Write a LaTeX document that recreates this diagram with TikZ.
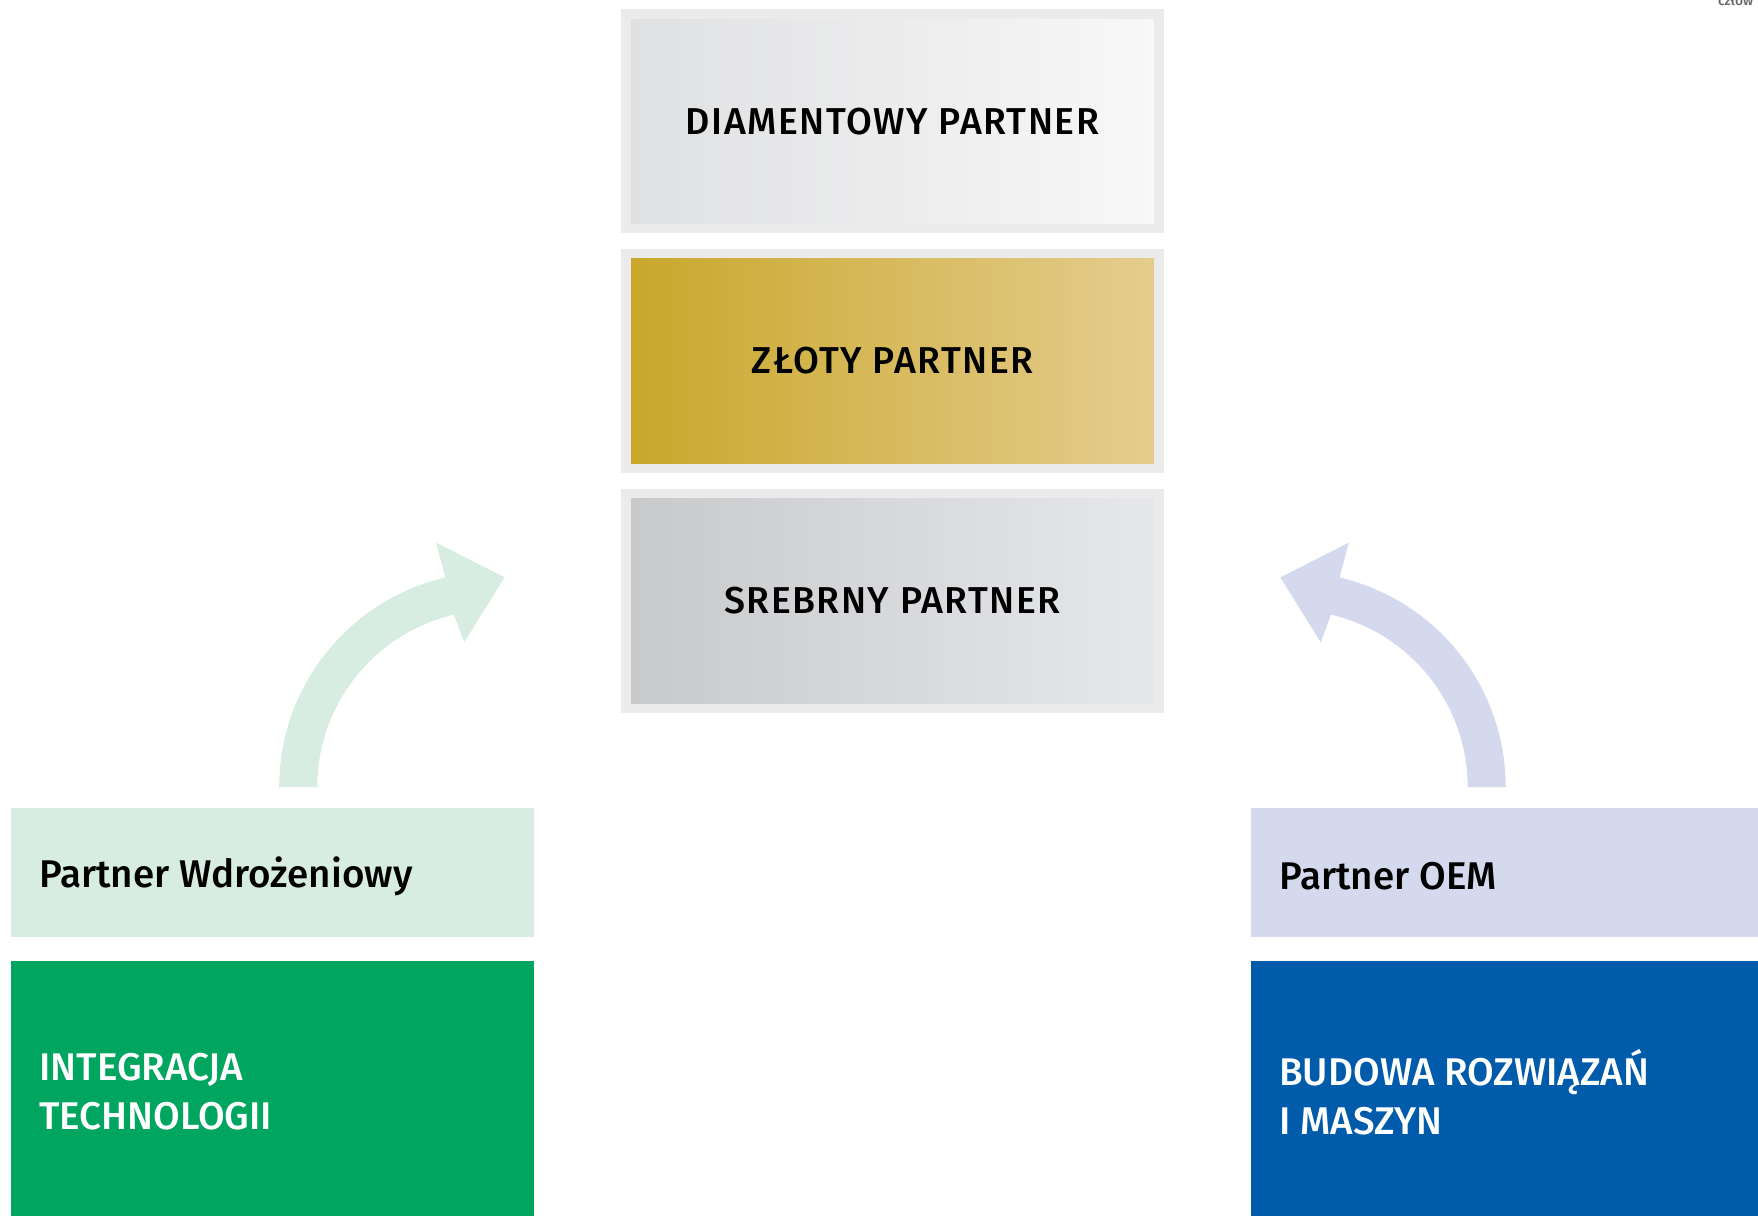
\documentclass[tikz,border=0pt]{standalone}
\usepackage{fontspec}
\setmainfont{Fira Sans}[UprightFont={* Medium}]
\definecolor{frame}{HTML}{EBEBEB}
\definecolor{diaL}{HTML}{DFE0E2}
\definecolor{diaR}{HTML}{F8F8F8}
\definecolor{goldL}{HTML}{C9A72B}
\definecolor{goldR}{HTML}{E5CD8F}
\definecolor{silvL}{HTML}{C8C9CB}
\definecolor{silvR}{HTML}{E6E8EB}
\definecolor{mint}{HTML}{D7EDE1}
\definecolor{green}{HTML}{00A55F}
\definecolor{lilac}{HTML}{D5D9EE}
\definecolor{navy}{HTML}{005BAA}

\begin{document}
\begin{tikzpicture}[x=0.02cm,y=0.02cm,
		tier/.style={draw=frame,line width=0.17cm,minimum width=9.51cm,minimum height=3.83cm,
			inner sep=0pt,font=\fontsize{19}{23}\selectfont,text=black},
		band/.style={inner sep=0pt,minimum height=2.3cm},
		block/.style={inner sep=0pt,minimum height=4.56cm},
		caption/.style={anchor=west,inner sep=0pt,font=\fontsize{19.6}{25}\selectfont,align=left}]
				\useasboundingbox (0,0) rectangle (1568,1085);
				\node[tier,left color=diaL,right color=diaR] (dia) at (796,977) {\raisebox{-0.05cm}{\addfontfeature{LetterSpace=4}DIAMENTOWY PARTNER}};
				\node[tier,left color=goldL,right color=goldR] (gold) at (796,763) {\raisebox{-0.05cm}{\addfontfeature{LetterSpace=4}ZŁOTY PARTNER}};
				\node[tier,left color=silvL,right color=silvR] (silver) at (796,549) {\raisebox{-0.05cm}{\addfontfeature{LetterSpace=4}SREBRNY PARTNER}};
				\node[band,fill=mint,minimum width=9.32cm] (impl) at (243,306.5) {};
				\node[block,fill=green,minimum width=9.32cm] (integ) at (243,114) {};
				\node[band,fill=lilac,minimum width=9.04cm] (oem) at (1342,306.5) {};
				\node[block,fill=navy,minimum width=9.04cm] (build) at (1342,114) {};
				\node[caption] (implText) at ([xshift=0.5cm,yshift=-0.06cm]impl.west) {Partner Wdrożeniowy};
				\node[caption,text=white] (integText) at ([xshift=0.5cm,yshift=-0.06cm]integ.west) {INTEGRACJA\\TECHNOLOGII};
				\node[caption] (oemText) at ([xshift=0.5cm,yshift=-0.06cm]oem.west) {Partner OEM};
				\node[caption,text=white] (buildText) at ([xshift=0.5cm,yshift=-0.06cm]build.west) {BUDOWA ROZWIĄZAŃ\\I MASZYN};
				\fill[mint] (249,383) arc[start angle=180,end angle=103.2,radius=192] -- (389,601) -- (450,570)
					-- (414,512) -- (404.9,536.8) arc[start angle=103.2,end angle=180,radius=158] -- cycle;
				\fill[lilac] (1343,383) arc[start angle=0,end angle=76.8,radius=192] -- (1203,601) -- (1142,570)
					-- (1178,512) -- (1187.1,536.8) arc[start angle=76.8,end angle=0,radius=158] -- cycle;
				\node[anchor=base west,inner sep=0pt,text=black!60,font=\fontsize{7}{8}\selectfont] (note) at (1532,1080.5) {człow};
			\end{tikzpicture}
\end{document}
